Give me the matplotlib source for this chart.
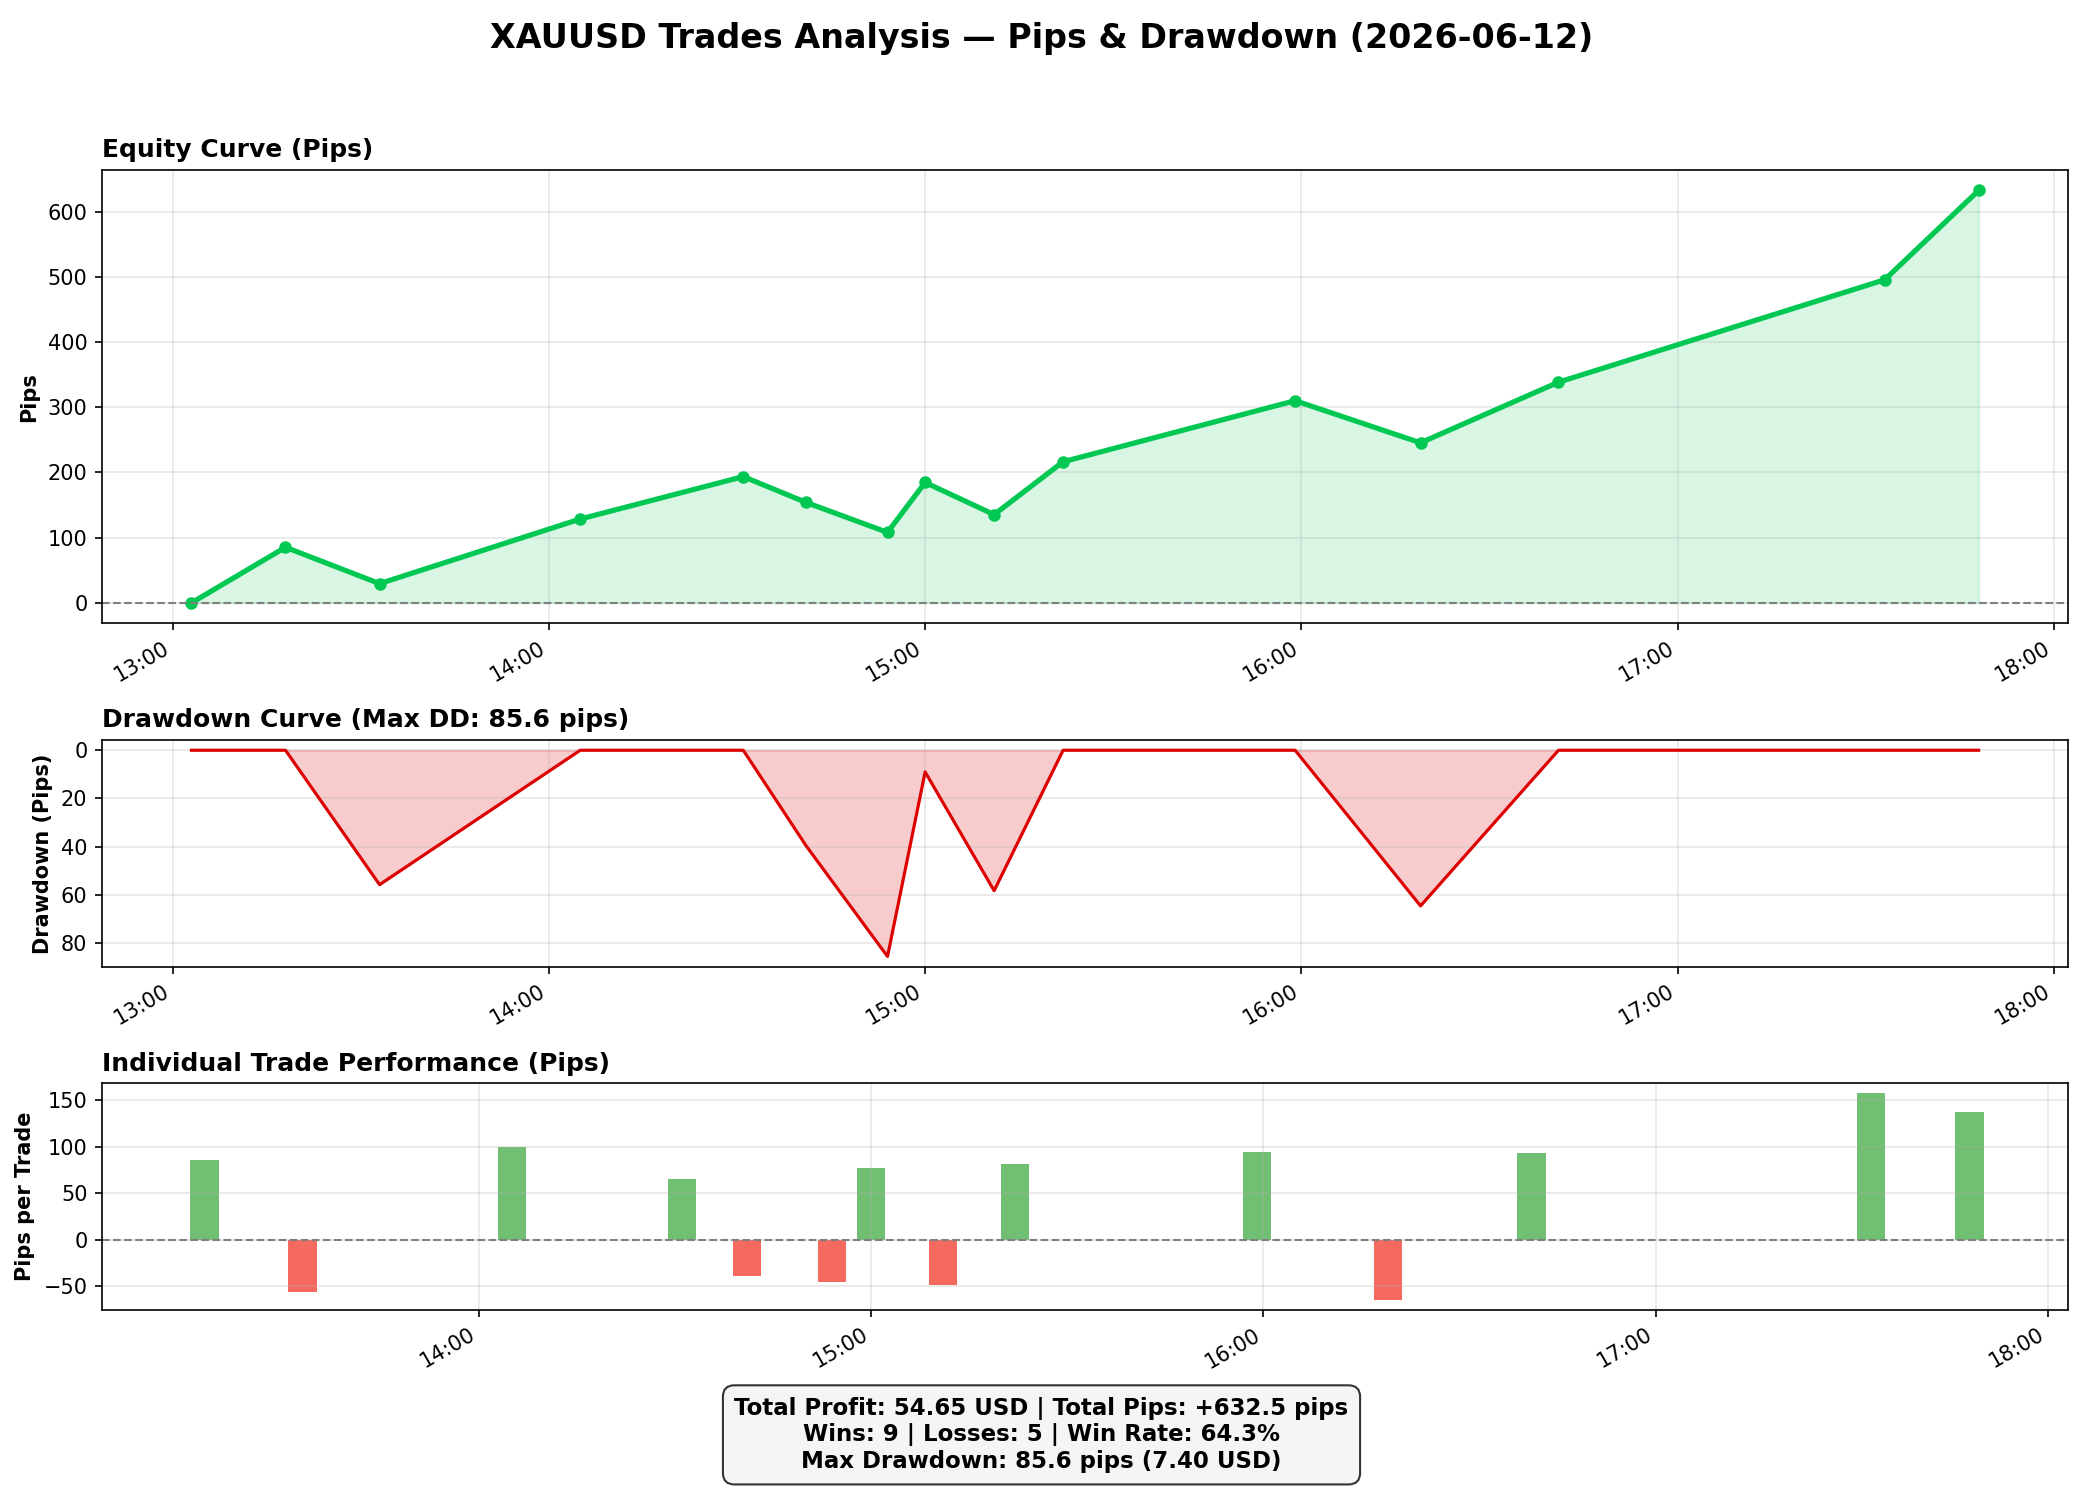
import numpy as np
import pandas as pd
import matplotlib
matplotlib.use("Agg")
import matplotlib.pyplot as plt
import matplotlib.dates as mdates

# -------------------------------
# DATA
# -------------------------------
day = "2026-06-12"
start_time = "13:03"
close_times = ["13:18", "13:33", "14:05", "14:31", "14:41", "14:54", "15:00",
               "15:11", "15:22", "15:59", "16:19", "16:41", "17:33", "17:48"]
trade_pips = [85.3, -55.8, 99.1, 65.1, -39.6, -46.0, 76.6,
              -49.3, 81.0, 93.7, -64.6, 93.0, 157.0, 137.0]

total_profit_usd = 54.65
max_dd_usd = 7.40

# -------------------------------
# DERIVED SERIES
# -------------------------------
times = pd.to_datetime([f"{day} {t}" for t in [start_time] + close_times])
trade_times = times[1:]
equity = np.concatenate([[0.0], np.cumsum(trade_pips)])
drawdown = np.maximum.accumulate(equity) - equity
max_dd = drawdown.max()

wins = sum(1 for p in trade_pips if p > 0)
losses = sum(1 for p in trade_pips if p < 0)
win_rate = wins / len(trade_pips) * 100

# -------------------------------
# FIGURE
# -------------------------------
fig = plt.figure(figsize=(2083 / 150, 1490 / 150), dpi=150)
gs = fig.add_gridspec(3, 1, height_ratios=[2, 1, 1], left=0.049, right=0.9928,
                      top=0.886, bottom=0.1208, hspace=0.385)
ax1 = fig.add_subplot(gs[0])
ax2 = fig.add_subplot(gs[1])
ax3 = fig.add_subplot(gs[2])

fig.suptitle(f"XAUUSD Trades Analysis — Pips & Drawdown ({day})",
             fontsize=16, fontweight="bold", y=0.985)

# equity curve
ax1.plot(times, equity, color="#00c853", linewidth=2.5, marker="o", markersize=5)
ax1.fill_between(times, equity, 0, color="#00c853", alpha=0.15)
ax1.axhline(0, color="gray", linestyle="--", linewidth=1)
ax1.set_title("Equity Curve (Pips)", fontsize=12, fontweight="bold", loc="left")
ax1.set_ylabel("Pips", fontweight="bold")

# drawdown curve
ax2.plot(times, drawdown, color="#dd0000", linewidth=1.5)
ax2.fill_between(times, drawdown, 0, color="#dd0000", alpha=0.2)
ax2.invert_yaxis()
ax2.set_title(f"Drawdown Curve (Max DD: {max_dd:.1f} pips)", fontsize=12,
              fontweight="bold", loc="left")
ax2.set_ylabel("Drawdown (Pips)", fontweight="bold")

# individual trades
bar_colors = ["#4caf50" if p > 0 else "#f44336" for p in trade_pips]
ax3.bar(trade_times, trade_pips, width=0.003, color=bar_colors, alpha=0.8)
ax3.axhline(0, color="gray", linestyle="--", linewidth=1)
ax3.set_title("Individual Trade Performance (Pips)", fontsize=12,
              fontweight="bold", loc="left")
ax3.set_ylabel("Pips per Trade", fontweight="bold")
ax3.set_xlim(pd.Timestamp(f"{day} 13:02:20"), pd.Timestamp(f"{day} 18:03:05"))

for ax in (ax1, ax2, ax3):
    ax.grid(True, alpha=0.3)
    ax.xaxis.set_major_locator(mdates.HourLocator())
    ax.xaxis.set_major_formatter(mdates.DateFormatter("%H:%M"))
    plt.setp(ax.get_xticklabels(), rotation=30, ha="right")

stats = (f"Total Profit: {total_profit_usd:.2f} USD | Total Pips: {sum(trade_pips):+.1f} pips\n"
         f"Wins: {wins} | Losses: {losses} | Win Rate: {win_rate:.1f}%\n"
         f"Max Drawdown: {max_dd:.1f} pips ({max_dd_usd:.2f} USD)")
fig.text(0.5, 0.037, stats, ha="center", va="center", fontsize=11,
         fontweight="bold",
         bbox=dict(boxstyle="round,pad=0.5", facecolor="#f5f5f5",
                   edgecolor="#333333", alpha=1))

fig.savefig("out.png", dpi=150)
